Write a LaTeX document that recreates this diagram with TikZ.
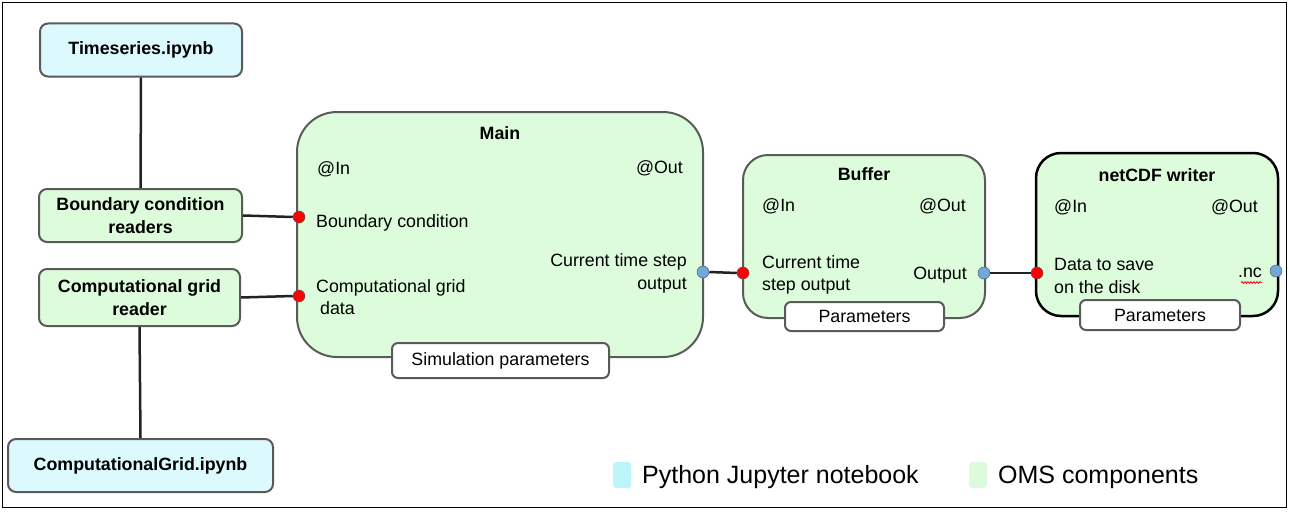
\documentclass[tikz,border=0pt]{standalone}
\usepackage{fontspec}
\setmainfont{Liberation Sans}
\usetikzlibrary{decorations.pathmorphing}
\definecolor{nbfill}{HTML}{DCF9FD}
\definecolor{omsfill}{HTML}{DDFCDC}
\definecolor{boxline}{HTML}{5A5A5A}
\definecolor{wirecol}{HTML}{222222}
\definecolor{portred}{HTML}{FF0000}
\definecolor{portblue}{HTML}{6FA8DC}
\definecolor{legcyan}{HTML}{BBF5FC}
\definecolor{leggreen}{HTML}{DCFADC}
\begin{document}
\begin{tikzpicture}[x=1pt,y=-1pt,
  every node/.style={font=\fontsize{17.8}{22.5}\selectfont, inner sep=0pt},
  boldtxt/.style={font=\fontsize{17.8}{22.5}\selectfont\bfseries},
  nbbox/.style={draw=boxline, fill=nbfill, line width=2pt, rounded corners=8pt, align=center, boldtxt},
  omsbox/.style={draw=boxline, fill=omsfill, line width=2pt, rounded corners=8pt, align=center, boldtxt},
  compbox/.style={draw=boxline, fill=omsfill, line width=2pt},
  parbox/.style={draw=boxline, fill=white, line width=2pt, rounded corners=6pt},
  wire/.style={draw=wirecol, line width=2.5pt},
  inport/.style={circle, fill=portred, draw=boxline, line width=0.5pt, minimum size=12pt},
  outport/.style={circle, fill=portblue, draw=boxline, line width=0.5pt, minimum size=12pt},
  legsq/.style={rounded corners=3pt, minimum width=18pt, minimum height=26pt},
  legtxt/.style={font=\fontsize{25}{30}\selectfont, anchor=west},
]
\useasboundingbox (0,0) rectangle (1289,511);
\draw[line width=1pt] (2,3) rectangle (1286,507);

% left column
\node[nbbox, minimum width=202pt, minimum height=53pt] (ts) at (141,50) {Timeseries.ipynb};
\node[omsbox, minimum width=203pt, minimum height=53pt] (bcr) at (140.5,215.5) {Boundary condition\\readers};
\node[omsbox, minimum width=201pt, minimum height=57pt] (cgr) at (139.5,297.5) {Computational grid\\reader};
\node[nbbox, minimum width=265pt, minimum height=53pt] (cgi) at (140.5,465.5) {ComputationalGrid.ipynb};

% main
\node[compbox, rounded corners=40pt, minimum width=406pt, minimum height=245pt] (main) at (500,234.5) {};
\node[parbox, minimum width=217pt, minimum height=35pt] (simp) at (500.5,360.5) {Simulation parameters};
\node[boldtxt] (mtitle) at (500,133) {Main};
\node[anchor=west] (min) at (317,169) {@In};
\node[anchor=east] (mout) at (683,168) {@Out};
\node[anchor=west] (mbc) at (316,223) {Boundary condition};
\node[anchor=west, align=left] (mcg) at (316,297) {Computational grid\\\hspace{4pt}data};
\node[anchor=east, align=right] (mcur) at (687,273.5) {Current time step\\output};

% buffer
\node[compbox, rounded corners=25pt, minimum width=242pt, minimum height=163pt] (buf) at (864,236.5) {};
\node[parbox, minimum width=159pt, minimum height=29pt] (bpar) at (864.5,316.5) {Parameters};
\node[boldtxt] (btitle) at (864,174) {Buffer};
\node[anchor=west] (bin) at (762,206) {@In};
\node[anchor=east] (bout) at (966,206) {@Out};
\node[anchor=west, align=left] (bcur) at (762,275) {Current time\\step output};
\node[anchor=east] (boutp) at (967,275) {Output};

% netCDF writer
\node[draw=black, fill=omsfill, line width=2.5pt, rounded corners=25pt, minimum width=242pt, minimum height=163pt] (ncw) at (1157,234.5) {};
\node[parbox, minimum width=160pt, minimum height=30pt] (npar) at (1160,315) {Parameters};
\node[boldtxt] (ntitle) at (1157,175) {netCDF writer};
\node[anchor=west] (nin) at (1054,207) {@In};
\node[anchor=east] (nout) at (1258,207) {@Out};
\node[anchor=west, align=left] (ndata) at (1054,276) {Data to save\\on the disk};
\node[anchor=east] (nnc) at (1262,273) {.nc};
\draw[portred, line width=0.8pt, decorate, decoration={snake, amplitude=0.9pt, segment length=3pt}] (1241,282.5) -- (1262,282.5);

% ports
\node[inport] (pbc) at (299,217) {};
\node[inport] (pcg) at (299,296) {};
\node[outport] (pmo) at (703,272) {};
\node[inport] (pbi) at (743,273) {};
\node[outport] (pbo) at (984,273) {};
\node[inport] (pni) at (1037,273) {};
\node[outport] (pno) at (1276,271) {};

% connectors
\draw[wire] (ts.south) -- (bcr.north);
\draw[wire] (cgr.south) -- (cgi.north);
\draw[wire] (bcr.east) -- (pbc.west);
\draw[wire] (cgr.east) -- (pcg.west);
\draw[wire] (pmo.east) -- (pbi.west);
\draw[wire] (pbo.east) -- (pni.west);

% legend
\node[legsq, fill=legcyan] (lcy) at (622,475) {};
\node[legtxt] (lcyt) at (642,477) {Python Jupyter notebook};
\node[legsq, fill=leggreen] (lgr) at (978,475) {};
\node[legtxt] (lgrt) at (998,477) {OMS components};
\end{tikzpicture}
\end{document}
